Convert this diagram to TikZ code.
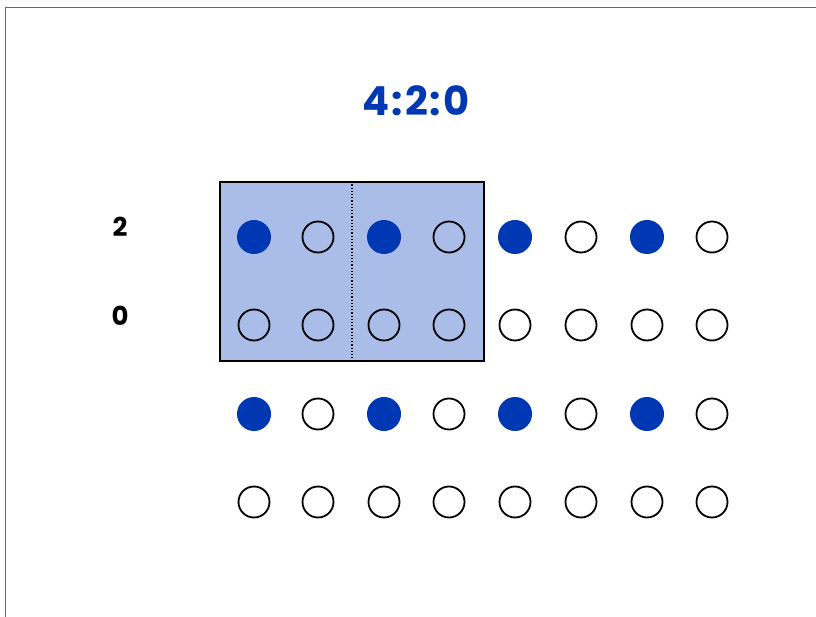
\documentclass[tikz,border=0pt]{standalone}
\usepackage{fontspec}
\setmainfont{Poppins}
\definecolor{chromablue}{RGB}{0,56,180}
\definecolor{blockfill}{RGB}{170,189,232}

\begin{document}
\begin{tikzpicture}[x=1pt, y=-1pt,
    pix/.style={circle, draw=black, line width=1.8pt, minimum size=31pt, inner sep=0pt},
    chroma/.style={circle, fill=chromablue, minimum size=34pt, inner sep=0pt},
    rowlabel/.style={font=\fontsize{26}{30}\selectfont\bfseries}]
                \useasboundingbox (0,0) rectangle (816,617);
                \draw[black!60, line width=1pt] (5.5,617) -- (5.5,7.5) -- (816,7.5);

                \node (title) [font=\fontsize{40}{48}\selectfont\bfseries, text=chromablue] at (416,101) {4\kern2pt:\kern2pt2\kern2pt:\kern2pt0};

                \node (block) [draw, line width=1.4pt, fill=blockfill, minimum width=264pt, minimum height=179pt, inner sep=0pt] at (352,271.5) {};
                \draw[dotted, line width=1.2pt] (block.north) -- (block.south);

                \node (lab2) [rowlabel] at (120,227) {2};
                \node (lab0) [rowlabel] at (120,316) {0};

                \foreach \r/\y in {1/237, 2/325, 3/414, 4/502}
                  \foreach \c/\x in {1/254, 2/318, 3/384, 4/449, 5/515, 6/581, 7/647, 8/712}
                    \node (p\r\c) [pix] at (\x,\y) {};

                \foreach \r in {1,3}
                  \foreach \c in {1,3,5,7}
                    \node (c\r\c) [chroma] at (p\r\c) {};
\end{tikzpicture}
\end{document}
